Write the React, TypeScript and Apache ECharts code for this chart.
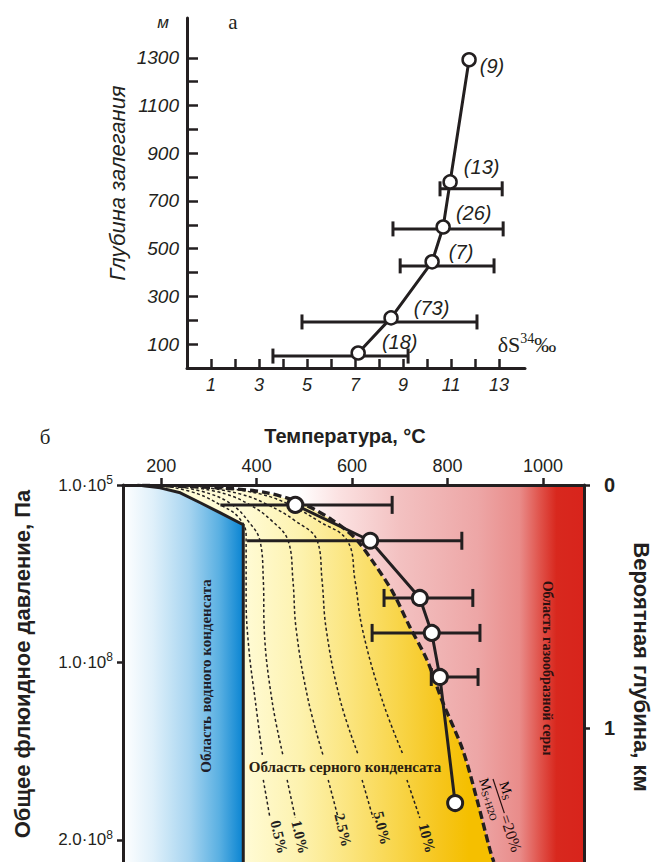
import React, { useEffect, useRef } from 'react';
import * as echarts from 'echarts';

// ---------- Panel "а": δS34 vs depth ----------
const deltaS34 = [7.13, 8.5, 10.21, 10.67, 10.96, 11.75];
const depthM = [63, 210, 445, 591, 780, 1292];
const sampleCounts = ['(18)', '(73)', '(7)', '(26)', '(13)', '(9)'];
const spreadLow = [3.58, 4.79, 8.88, 8.58, 10.54];
const spreadHigh = [9.21, 12.08, 12.79, 13.17, 13.13];
const spreadDepth = [50, 193, 428, 583, 751];
const depthTicks = [100, 200, 300, 400, 500, 600, 700, 800, 900, 1000, 1100, 1200, 1300];
const depthLabels = [100, 300, 500, 700, 900, 1100, 1300];
const deltaTicks = [1, 2, 3, 4, 5, 6, 7, 8, 9, 10, 11, 12, 13];
const deltaLabels = [1, 3, 5, 7, 9, 11, 13];

// ---------- Panel "б": temperature vs pressure (units of 10^8 Pa) ----------
const tempTicks = [200, 400, 600, 800, 1000];
const pressureTicks = [0.001, 1, 2];
const pressureMantissa = ['1.0', '1.0', '2.0'];
const pressureExponent = ['5', '8', '8'];
const depthKmTicks = [0, 1];

const fluidT = [481, 638, 742, 767, 784, 816];
const fluidP = [0.113, 0.315, 0.637, 0.834, 1.082, 1.792];
const rangeLowT = [324, 380, 667, 642, 766];
const rangeHighT = [684, 830, 853, 868, 864];
const rangeP = [0.113, 0.315, 0.637, 0.834, 1.082];
const rangeLeftCap = [false, false, true, true, true];

// water condensate boundary (T, P)
const waterBoundary = [[150, 0.001], [198, 0.017], [240, 0.045], [282, 0.101], [324, 0.158], [372, 0.225], [372, 2.124]];
// Ms/(Ms+H2O) = 20% boundary
const sulfur20 = [[160, 0.003], [324, 0.017], [422, 0.045], [497, 0.107], [558, 0.197], [606, 0.299], [644, 0.434], [686, 0.608], [721, 0.8], [757, 0.986], [788, 1.211], [832, 1.493], [862, 1.775], [889, 2.056], [897, 2.124]];
// isolines (null = gap for the label)
const iso05 = [[219, 0.011], [277, 0.051], [324, 0.113], [361, 0.18], [378, 0.282], [378, 0.648], [384, 0.93], [397, 1.211], [412, 1.521], null, [414, 1.662], [428, 1.876]];
const iso10 = [[240, 0.011], [303, 0.051], [349, 0.113], [382, 0.203], [407, 0.315], [414, 0.535], [416, 0.817], [432, 1.211], [455, 1.521], null, [464, 1.662], [481, 1.876]];
const iso25 = [[261, 0.011], [334, 0.051], [386, 0.113], [432, 0.203], [466, 0.315], [476, 0.535], [483, 0.817], [508, 1.211], [539, 1.521], null, [550, 1.662], [571, 1.876]];
const iso50 = [[282, 0.011], [365, 0.051], [424, 0.113], [481, 0.203], [527, 0.315], [537, 0.535], [546, 0.817], [575, 1.211], [613, 1.521], null, [621, 1.662], [644, 1.876]];
const iso100 = [[313, 0.011], [407, 0.051], [470, 0.113], [529, 0.203], [590, 0.315], [606, 0.535], [622, 0.817], [663, 1.211], [707, 1.521], null, [715, 1.662], [742, 1.876]];

// ---------- layout / style ----------
const INK = '#231f20';
const SANS = '"Liberation Sans", Arial, sans-serif';
const SERIF = '"Liberation Serif", "Times New Roman", serif';
const T_MIN = 120, T_MAX = 1086, P_MIN = 0.001, P_MAX = 2.124;
const countLabelOffsets = [[11, -11], [10, -10], [4, -10], [0, -14], [1, -15], [-2, 6]];

function splitOnNull(arr: any[]) {
  const out: any[][] = [];
  let cur: any[] = [];
  arr.forEach((p) => {
    if (p === null) { out.push(cur); cur = []; } else cur.push(p);
  });
  out.push(cur);
  return out;
}

const makeBars = (cap: number, leftCaps: boolean[] | null) => (params: any, api: any) => {
  const a = api.coord([api.value(0), api.value(2)]);
  const b = api.coord([api.value(1), api.value(2)]);
  const st = { stroke: INK, lineWidth: 3 };
  const ch: any[] = [
    { type: 'line', shape: { x1: a[0], y1: a[1], x2: b[0], y2: b[1] }, style: st },
    { type: 'line', shape: { x1: b[0], y1: b[1] - cap / 2, x2: b[0], y2: b[1] + cap / 2 }, style: st },
  ];
  if (!leftCaps || leftCaps[params.dataIndex]) {
    ch.push({ type: 'line', shape: { x1: a[0], y1: a[1] - cap / 2, x2: a[0], y2: a[1] + cap / 2 }, style: st });
  }
  return { type: 'group', children: ch };
};

function regionsRender(params: any, api: any) {
  const c = (p: number[]) => api.coord(p);
  const tl = c([T_MIN, P_MIN]);
  const br = c([T_MAX, P_MAX]);
  const xOf = (t: number) => c([t, P_MIN])[0];
  const redGrad = new echarts.graphic.LinearGradient(tl[0], 0, br[0], 0, [
    { offset: 0, color: '#ffffff' },
    { offset: 0.38, color: '#ffffff' },
    { offset: 0.47, color: '#fbe1e1' },
    { offset: 0.6, color: '#f3c1c1' },
    { offset: 0.77, color: '#eda6a6' },
    { offset: 0.86, color: '#e98c8a' },
    { offset: 0.905, color: '#e0524a' },
    { offset: 0.94, color: '#d8281e' },
    { offset: 1, color: '#d8241c' },
  ], true);
  const yx0 = xOf(372), yx1 = xOf(897);
  const yellowGrad = new echarts.graphic.LinearGradient(yx0, 0, yx1, 0, [
    { offset: 0, color: '#fffbd6' },
    { offset: 0.23, color: '#fdf2ae' },
    { offset: 0.43, color: '#fbe47c' },
    { offset: 0.63, color: '#f8d446' },
    { offset: 0.78, color: '#f6c61e' },
    { offset: 0.9, color: '#f5bf00' },
    { offset: 1, color: '#f5bf00' },
  ], true);
  const bx0 = xOf(T_MIN), bx1 = xOf(372);
  const blueGrad = new echarts.graphic.LinearGradient(bx0, 0, bx1, 0, [
    { offset: 0, color: '#ffffff' },
    { offset: 0.25, color: '#dff0fa' },
    { offset: 0.55, color: '#a6d4f0' },
    { offset: 0.8, color: '#5ab0e2' },
    { offset: 1, color: '#0984d2' },
  ], true);
  const yellowPts = [[150, P_MIN], ...sulfur20, [372, P_MAX], ...waterBoundary.slice(0, -1).reverse()].map(c);
  const bluePts = [[T_MIN, P_MIN], ...waterBoundary, [T_MIN, P_MAX]].map(c);
  return {
    type: 'group',
    children: [
      { type: 'rect', shape: { x: tl[0], y: tl[1], width: br[0] - tl[0], height: br[1] - tl[1] }, style: { fill: redGrad } },
      { type: 'polygon', shape: { points: yellowPts }, style: { fill: yellowGrad } },
      { type: 'polygon', shape: { points: bluePts }, style: { fill: blueGrad } },
    ],
  };
}

const plain = (v: number) => String(v);

function buildOption() {
  const isoSeries: any[] = [];
  [iso05, iso10, iso25, iso50, iso100].forEach((iso) => {
    splitOnNull(iso).forEach((seg) => {
      isoSeries.push({
        type: 'line', xAxisIndex: 1, yAxisIndex: 1, data: seg, smooth: 0.4, symbol: 'none', silent: true, z: 3,
        lineStyle: { color: INK, width: 1.5, type: [3, 2.5] },
      });
    });
  });

  const supRich = {
    sup: { fontSize: 12, fontFamily: SANS, color: INK, verticalAlign: 'top', padding: [0, 0, 10, 0] },
    b: { fontSize: 17, fontFamily: SANS, color: INK },
  };

  const text = (t: string, x: number, y: number, o: any = {}) => ({
    type: 'text', x, y, rotation: o.rot || 0, silent: true, z: 100,
    style: {
      text: t, fill: o.color || INK, fontSize: o.size || 16, fontFamily: o.family || SANS,
      fontWeight: o.weight || 'normal', fontStyle: o.style || 'normal',
      align: o.align || 'center', verticalAlign: 'middle', rich: o.rich,
    },
  });

  const pctRot = -1.33;
  const fracRich = {
    m: { fontSize: 14, fontFamily: SERIF, color: '#2a1010' },
    s: { fontSize: 10, fontFamily: SERIF, color: '#2a1010', verticalAlign: 'bottom', padding: [6, 0, 0, 0] },
  };

  return {
    animation: false,
    grid: [
      { left: 187, top: 18, width: 338, height: 350 },
      { left: 123, top: 485, width: 461, height: 377 },
    ],
    xAxis: [
      {
        gridIndex: 0, type: 'value', min: 0, max: 14.08, z: 10,
        axisLine: { show: true, lineStyle: { color: INK, width: 3 } },
        axisTick: { show: true, inside: true, length: 9, lineStyle: { color: INK, width: 2.5 }, customValues: deltaTicks },
        axisLabel: { color: INK, fontSize: 18, fontStyle: 'italic', fontFamily: SANS, margin: 8, customValues: deltaLabels, formatter: plain },
        splitLine: { show: false },
      },
      {
        gridIndex: 1, type: 'value', position: 'top', min: T_MIN, max: T_MAX, z: 10,
        axisLine: { show: true, lineStyle: { color: INK, width: 3 } },
        axisTick: { show: true, inside: false, length: 7, lineStyle: { color: INK, width: 2.5 }, customValues: tempTicks },
        axisLabel: { color: INK, fontSize: 18, fontFamily: SANS, margin: 10, customValues: tempTicks, formatter: plain },
        splitLine: { show: false },
      },
    ],
    yAxis: [
      {
        gridIndex: 0, type: 'value', min: 0, max: 1467, z: 10,
        axisLine: { show: true, lineStyle: { color: INK, width: 3 } },
        axisTick: { show: true, inside: true, length: 11, lineStyle: { color: INK, width: 2.5 }, customValues: depthTicks },
        axisLabel: { color: INK, fontSize: 19, fontStyle: 'italic', fontFamily: SANS, margin: 8, customValues: depthLabels, formatter: plain },
        splitLine: { show: false },
      },
      {
        gridIndex: 1, type: 'value', inverse: true, min: P_MIN, max: P_MAX, z: 10,
        axisLine: { show: true, lineStyle: { color: INK, width: 3 } },
        axisTick: { show: true, inside: false, length: 6, lineStyle: { color: INK, width: 2.5 }, customValues: pressureTicks },
        axisLabel: {
          color: INK, fontSize: 17, fontFamily: SANS, margin: 10, customValues: pressureTicks,
          formatter: (v: number) => {
            let i = 0; let best = Infinity;
            pressureTicks.forEach((t, k) => { const d = Math.abs(t - v); if (d < best) { best = d; i = k; } });
            return `{b|${pressureMantissa[i]}·10}{sup|${pressureExponent[i]}}`;
          },
          rich: supRich,
        },
        splitLine: { show: false },
      },
      {
        gridIndex: 1, type: 'value', position: 'right', inverse: true, min: 0, max: 1.551, z: 10,
        axisLine: { show: true, lineStyle: { color: INK, width: 3 } },
        axisTick: { show: true, inside: false, length: 6, lineStyle: { color: INK, width: 2.5 }, customValues: depthKmTicks },
        axisLabel: { color: INK, fontSize: 20, fontWeight: 'bold', fontFamily: SANS, margin: 20, customValues: depthKmTicks, formatter: plain },
        splitLine: { show: false },
      },
    ],
    series: [
      // --- panel б ---
      { type: 'custom', xAxisIndex: 1, yAxisIndex: 1, data: [[T_MIN, P_MIN]], renderItem: regionsRender, silent: true, z: 1 },
      ...isoSeries,
      {
        type: 'line', xAxisIndex: 1, yAxisIndex: 1, data: sulfur20, smooth: 0.3, symbol: 'none', silent: true, z: 4,
        lineStyle: { color: INK, width: 3.4, type: [8, 4] },
      },
      {
        type: 'line', xAxisIndex: 1, yAxisIndex: 1, data: waterBoundary, symbol: 'none', silent: true, z: 4,
        lineStyle: { color: INK, width: 3 },
      },
      {
        type: 'custom', xAxisIndex: 1, yAxisIndex: 1, silent: true, z: 5,
        data: rangeP.map((p, i) => [rangeLowT[i], rangeHighT[i], p]),
        encode: { x: [0, 1], y: 2 },
        renderItem: makeBars(18, rangeLeftCap),
      },
      {
        type: 'line', xAxisIndex: 1, yAxisIndex: 1, z: 6, silent: true,
        data: fluidT.map((t, i) => [t, fluidP[i]]),
        symbol: 'circle', symbolSize: 15,
        itemStyle: { color: '#ffffff', borderColor: INK, borderWidth: 3 },
        lineStyle: { color: INK, width: 3 },
      },
      // --- panel а ---
      {
        type: 'custom', xAxisIndex: 0, yAxisIndex: 0, silent: true, z: 5,
        data: spreadDepth.map((d, i) => [spreadLow[i], spreadHigh[i], d]),
        encode: { x: [0, 1], y: 2 },
        renderItem: makeBars(15, null),
      },
      {
        type: 'line', xAxisIndex: 0, yAxisIndex: 0, z: 6, silent: true,
        data: deltaS34.map((d, i) => ({
          value: [d, depthM[i]],
          label: { offset: countLabelOffsets[i] },
        })),
        symbol: 'circle', symbolSize: 13,
        itemStyle: { color: '#ffffff', borderColor: INK, borderWidth: 2.5 },
        lineStyle: { color: INK, width: 3 },
        label: {
          show: true, position: 'right', color: INK, fontSize: 20, fontStyle: 'italic', fontFamily: SANS,
          formatter: (p: any) => sampleCounts[p.dataIndex],
        },
      },
    ],
    graphic: [
      text('м', 163, 22, { size: 17, style: 'italic' }),
      text('а', 233, 22, { size: 21, family: SERIF }),
      text('Глубина залегания', 117, 183, { size: 22, style: 'italic', rot: Math.PI / 2 }),
      text('{a|δS}{s|34}{a|‰}', 527, 344, {
        rich: {
          a: { fontSize: 22, fontFamily: SERIF, color: INK },
          s: { fontSize: 14, fontFamily: SERIF, color: INK, verticalAlign: 'top', padding: [0, 0, 12, 0] },
        },
      }),
      text('б', 45, 437, { size: 21, family: SERIF }),
      text('Температура, °С', 345, 436, { size: 20, weight: 'bold' }),
      text('Общее флюидное давление, Па', 22, 664, { size: 22, weight: 'bold', rot: Math.PI / 2 }),
      text('Вероятная глубина, км', 641, 667, { size: 22, weight: 'bold', rot: -Math.PI / 2 }),
      text('Область водного конденсата', 206, 676, { size: 15, weight: 'bold', family: SERIF, rot: Math.PI / 2, color: '#1e1e2a' }),
      text('Область серного конденсата', 345, 767, { size: 15, weight: 'bold', family: SERIF, color: '#2a2010' }),
      text('Область газообразной серы', 547, 668, { size: 14, weight: 'bold', family: SERIF, rot: -Math.PI / 2, color: '#2a1010' }),
      text('0.5%', 279, 837, { size: 15, weight: 'bold', family: SERIF, rot: pctRot }),
      text('1.0%', 300, 837, { size: 15, weight: 'bold', family: SERIF, rot: pctRot }),
      text('2.5%', 343, 830, { size: 15, weight: 'bold', family: SERIF, rot: pctRot }),
      text('5.0%', 382, 828, { size: 15, weight: 'bold', family: SERIF, rot: pctRot }),
      text('10%', 427, 838, { size: 15, weight: 'bold', family: SERIF, rot: pctRot }),
      {
        type: 'group', x: 493, y: 779, rotation: -1.25, silent: true, z: 100,
        children: [
          { type: 'text', z: 100, x: 15, y: -1, style: { text: '{m|M}{s|S}', align: 'center', verticalAlign: 'bottom', rich: fracRich } },
          { type: 'line', z: 100, shape: { x1: 0, y1: 0, x2: 36, y2: 0 }, style: { stroke: '#2a1010', lineWidth: 1.2 } },
          { type: 'text', z: 100, x: 18, y: 1, style: { text: '{m|M}{s|S+H2O}', align: 'center', verticalAlign: 'top', rich: fracRich } },
          { type: 'text', z: 100, x: 38, y: 0, style: { text: '=20%', align: 'left', verticalAlign: 'middle', fontSize: 16, fontFamily: SERIF, fill: '#2a1010' } },
        ],
      },
    ],
  };
}

export default function App() {
  const ref = useRef<HTMLDivElement>(null);
  useEffect(() => {
    const chart = echarts.init(ref.current as HTMLDivElement, null, { renderer: 'svg' });
    chart.setOption(buildOption() as any);
    return () => chart.dispose();
  }, []);
  return <div ref={ref} style={{ position: 'absolute', left: 0, top: 0, width: 657, height: 862, background: '#ffffff' }} />;
}
